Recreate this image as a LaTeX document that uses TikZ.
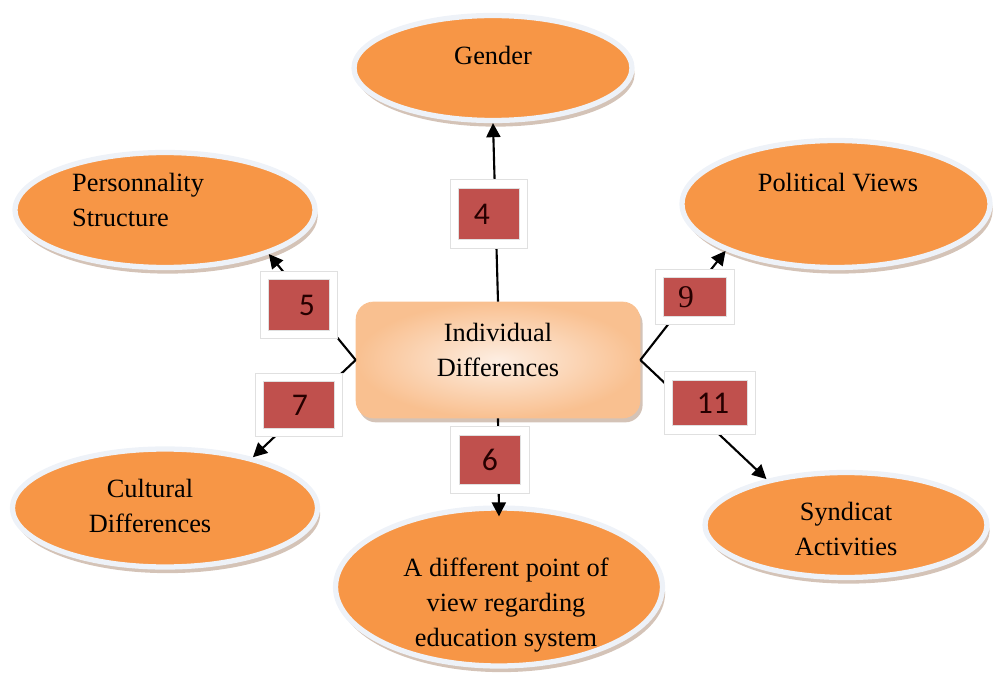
\documentclass[tikz,border=0pt]{standalone}
\usepackage{fontspec}
\setmainfont{Liberation Serif}
\newfontfamily\numfont{Carlito}
\usetikzlibrary{shapes.geometric,shadows,arrows.meta}
\definecolor{ellorange}{RGB}{247,150,70}
\definecolor{rimblue}{RGB}{238,242,248}
\definecolor{ellshadow}{RGB}{170,136,112}
\definecolor{numred}{RGB}{192,80,77}
\definecolor{numshadow}{RGB}{170,150,160}
\definecolor{hubin}{RGB}{253,238,226}
\definecolor{hubout}{RGB}{249,192,144}
\begin{document}
\begin{tikzpicture}[x=0.02cm,y=-0.02cm,
  font=\fontsize{15}{20}\selectfont,
  ell/.style={ellipse,fill=ellorange,draw=rimblue,line width=3pt,
    drop shadow={shadow xshift=1.5pt,shadow yshift=-3.5pt,fill=ellshadow}},
  numbox/.style={fill=numred,draw=black!12,double=white,double distance=4.5pt,
    line width=.4pt,inner sep=0pt,
    drop shadow={shadow xshift=2pt,shadow yshift=-2.5pt,fill=numshadow}},
  num/.style={font=\numfont\fontsize{18}{20}\selectfont,text=black!85!red},
  link/.style={line width=1.2pt},
  arr/.style={link,-{Triangle[length=8pt,width=8pt]}}]
\useasboundingbox (0,0) rectangle (994,689);
% outer ellipses
\node[ell,minimum width=5.56cm,minimum height=2.1cm] (gender) at (493,68) {};
\node[ell,minimum width=6cm,minimum height=2.3cm] (pers) at (165,210) {};
\node[ell,minimum width=6.16cm,minimum height=2.54cm] (pol) at (836,204) {};
\node[ell,minimum width=6.1cm,minimum height=2.36cm] (cult) at (165,508) {};
\node[ell,minimum width=6.54cm,minimum height=3.16cm] (diff) at (499,587) {};
\node[ell,minimum width=5.64cm,minimum height=2.1cm] (syn) at (846,525) {};
\node at (493,55) {Gender};
\node[anchor=west,align=left] at (66,200) {Personnality\\Structure};
\node at (838,183) {Political Views};
\node[align=center] at (150,506) {Cultural\\Differences};
\node[align=center] at (506,605) {A different point of\\view regarding\\education system};
\node[align=center] at (846,529) {Syndicat\\Activities};
% centre box
\node[rounded corners=0.35cm,minimum width=5.68cm,minimum height=2.32cm,
  inner color=hubin,outer color=hubout,draw=hubout,
  drop shadow={shadow xshift=1.5pt,shadow yshift=-2.5pt,fill=ellshadow}]
  (hub) at (498,360) {};
\node[align=center] at (498,350) {Individual\\Differences};
% connectors
\draw[arr] (hub.north) -- (gender.south);
\draw[arr] (hub.south) -- ([yshift=-0.22cm]diff.north);
\draw[arr] (hub.west) -- (pers.-23);
\draw[arr] (hub.west) -- (cult.30);
\draw[arr] (hub.east) -- (pol.203);
\draw[arr] (hub.east) -- (syn.150);
% number boxes
\node[numbox,minimum width=1.38cm,minimum height=1.2cm] (b4) at (489,214) {};
\node[num] at (482,214) {4};
\node[numbox,minimum width=1.38cm,minimum height=1.18cm] (b5) at (299,305) {};
\node[num] at (307,305) {5};
\node[numbox,minimum width=1.58cm,minimum height=1.1cm] (b7) at (299,405) {};
\node[num] at (300,405) {7};
\node[numbox,minimum width=1.4cm,minimum height=1.16cm] (b6) at (490,460) {};
\node[num] at (490,460) {6};
\node[numbox,minimum width=1.42cm,minimum height=0.94cm] (b9) at (695,297) {};
\node[num,font=\fontsize{18}{20}\selectfont] at (686,297) {9};
\node[numbox,minimum width=1.66cm,minimum height=1.08cm] (b11) at (710,403) {};
\node[num] at (713,403) {11};
\end{tikzpicture}
\end{document}
